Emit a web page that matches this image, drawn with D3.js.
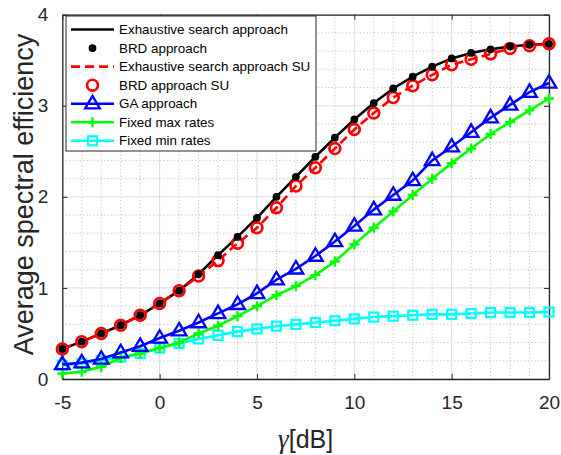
<!DOCTYPE html>
<html><head><meta charset="utf-8">
<script src="https://cdn.jsdelivr.net/npm/d3@7"></script>
<style>body{margin:0;background:#fff}svg{display:block}text{font-family:"Liberation Sans",Arial,sans-serif}</style>
</head><body><svg id="c" width="561" height="455"></svg>
<script>
const xValues = [-5,-4,-3,-2,-1,0,1,2,3,4,5,6,7,8,9,10,11,12,13,14,15,16,17,18,19,20];
const exhaustive   = [0.33,0.41,0.50,0.59,0.70,0.83,0.97,1.15,1.36,1.56,1.77,2.00,2.22,2.44,2.65,2.85,3.03,3.19,3.32,3.43,3.52,3.58,3.62,3.65,3.67,3.68];
const brd          = [0.33,0.41,0.50,0.59,0.70,0.83,0.97,1.15,1.36,1.56,1.77,2.00,2.22,2.44,2.65,2.85,3.03,3.19,3.32,3.43,3.52,3.58,3.62,3.65,3.67,3.68];
const exhaustiveSU = [0.33,0.41,0.50,0.59,0.70,0.83,0.97,1.13,1.30,1.49,1.66,1.88,2.12,2.32,2.53,2.74,2.92,3.09,3.22,3.34,3.45,3.51,3.57,3.63,3.66,3.68];
const brdSU        = [0.33,0.41,0.50,0.59,0.70,0.83,0.97,1.13,1.30,1.49,1.66,1.88,2.12,2.32,2.53,2.74,2.92,3.09,3.22,3.34,3.45,3.51,3.57,3.63,3.66,3.68];
const ga           = [0.16,0.18,0.22,0.29,0.36,0.45,0.53,0.62,0.72,0.82,0.94,1.09,1.21,1.35,1.51,1.68,1.86,2.02,2.18,2.40,2.55,2.71,2.87,3.01,3.15,3.25];
const fixedMax     = [0.06,0.08,0.135,0.23,0.28,0.34,0.40,0.50,0.585,0.69,0.80,0.92,1.02,1.14,1.29,1.48,1.66,1.84,2.02,2.20,2.37,2.53,2.69,2.82,2.95,3.08];
const fixedMin     = [0.15,0.17,0.20,0.24,0.28,0.34,0.39,0.44,0.48,0.52,0.55,0.58,0.60,0.62,0.64,0.66,0.68,0.69,0.70,0.71,0.71,0.72,0.73,0.73,0.73,0.735];
const xTicks = [-5,0,5,10,15,20];
const yTicks = [0,1,2,3,4];
const legendLabels = ["Exhaustive search approach","BRD approach","Exhaustive search approach SU","BRD approach SU","GA approach","Fixed max rates","Fixed min rates"];

const svg = d3.select("#c");
const L=62.3, R=549, T=14.7, B=379;
const x = d3.scaleLinear().domain([-5,20]).range([L,R]);
const y = d3.scaleLinear().domain([0,4]).range([B,T]);
const axisCol="#262626";

// grid minor
const g = svg.append("g");
g.selectAll(".mx").data(d3.range(-5,20.01,1).filter(v=>v%5!==0)).join("line")
 .attr("x1",d=>x(d)).attr("x2",d=>x(d)).attr("y1",T).attr("y2",B)
 .attr("stroke","#b0b0b0").attr("stroke-width",0.9).attr("stroke-dasharray","1,2.5");
g.selectAll(".my").data(d3.range(0,4.001,0.2).map(v=>+v.toFixed(1)).filter(v=>Math.abs(v-Math.round(v))>1e-6)).join("line")
 .attr("y1",d=>y(d)).attr("y2",d=>y(d)).attr("x1",L).attr("x2",R)
 .attr("stroke","#b0b0b0").attr("stroke-width",0.9).attr("stroke-dasharray","1,2.5");
g.selectAll(".gx").data(xTicks).join("line")
 .attr("x1",d=>x(d)).attr("x2",d=>x(d)).attr("y1",T).attr("y2",B)
 .attr("stroke","#dcdcdc").attr("stroke-width",1);
g.selectAll(".gy").data(yTicks).join("line")
 .attr("y1",d=>y(d)).attr("y2",d=>y(d)).attr("x1",L).attr("x2",R)
 .attr("stroke","#dcdcdc").attr("stroke-width",1);

// axes
const fmt = d => String(d);
const xa = svg.append("g").attr("transform",`translate(0,${B})`)
 .call(d3.axisBottom(x).tickValues(xTicks).tickFormat(fmt).tickSizeInner(-5).tickSizeOuter(0).tickPadding(17));
const xa2 = svg.append("g").attr("transform",`translate(0,${T})`)
 .call(d3.axisTop(x).tickValues(xTicks).tickSizeInner(-5).tickSizeOuter(0).tickFormat(""));
const ya = svg.append("g").attr("transform",`translate(${L},0)`)
 .call(d3.axisLeft(y).tickValues(yTicks).tickFormat(fmt).tickSizeInner(-5).tickSizeOuter(0).tickPadding(14));
const ya2 = svg.append("g").attr("transform",`translate(${R},0)`)
 .call(d3.axisRight(y).tickValues(yTicks).tickSizeInner(-5).tickSizeOuter(0).tickFormat(""));
[xa,xa2,ya,ya2].forEach(a=>{
  a.select(".domain").attr("stroke",axisCol).attr("stroke-width",1.3);
  a.selectAll(".tick line").attr("stroke",axisCol).attr("stroke-width",1);
  a.selectAll("text").attr("fill",axisCol).style("font-size","19px").style("font-family","'Liberation Sans',Arial,sans-serif");
});
xa.selectAll("text").attr("dy","0.71em");

const xl = svg.append("text").attr("x",(L+R)/2).attr("y",448).attr("text-anchor","middle")
 .attr("fill",axisCol).style("font-size","25px");
xl.append("tspan").style("font-family","'Liberation Serif','DejaVu Serif',serif").style("font-style","italic").style("font-size","27px").text("γ");
xl.append("tspan").text("[dB]");
svg.append("text").attr("transform",`translate(33,194.5) rotate(-90)`).attr("text-anchor","middle")
 .attr("fill",axisCol).style("font-size","27px").text("Average spectral efficiency");

const pts = arr => xValues.map((v,i)=>[v,arr[i]]);
const line = d3.line().x(d=>x(d[0])).y(d=>y(d[1]));
const plot = svg.append("g");

function drawMarker(sel, type, cx, cy){
  if(type==="dot") sel.append("circle").attr("cx",cx).attr("cy",cy).attr("r",3.9).attr("fill","#000");
  else if(type==="circle") sel.append("circle").attr("cx",cx).attr("cy",cy).attr("r",5.4).attr("fill","none").attr("stroke","#ff0000").attr("stroke-width",2.7);
  else if(type==="tri") sel.append("path").attr("d",`M${cx},${cy-7.8}L${cx+7.3},${cy+4.7}L${cx-7.3},${cy+4.7}Z`).attr("fill","none").attr("stroke","#0000ff").attr("stroke-width",2.3).attr("stroke-linejoin","miter");
  else if(type==="plus") sel.append("path").attr("d",`M${cx-5},${cy}H${cx+5}M${cx},${cy-5}V${cy+5}`).attr("stroke","#00ff00").attr("stroke-width",2.4);
  else if(type==="sq") sel.append("rect").attr("x",cx-4.5).attr("y",cy-4.5).attr("width",9).attr("height",9).attr("fill","none").attr("stroke","#00ffff").attr("stroke-width",2.2);
}

const series = [
  {data:fixedMin, color:"#00ffff", dash:null, marker:"sq", line:true},
  {data:fixedMax, color:"#00ff00", dash:null, marker:"plus", line:true},
  {data:ga, color:"#0000ff", dash:null, marker:"tri", line:true},
  {data:exhaustive, color:"#000000", dash:null, marker:null, line:true},
  {data:exhaustiveSU, color:"#ff0000", dash:"9,5", marker:null, line:true},
  {data:brdSU, color:"#ff0000", dash:null, marker:"circle", line:false},
  {data:brd, color:"#000", dash:null, marker:"dot", line:false},
];
series.forEach(s=>{
  if(s.line) plot.append("path").attr("d",line(pts(s.data))).attr("fill","none")
    .attr("stroke",s.color).attr("stroke-width",2.6).attr("stroke-dasharray",s.dash);
  if(s.marker){
    const mg = plot.append("g");
    pts(s.data).forEach(p=>drawMarker(mg,s.marker,x(p[0]),y(p[1])));
  }
});

// legend
const lg = svg.append("g");
lg.append("rect").attr("x",66).attr("y",16).attr("width",250).attr("height",135)
 .attr("fill","#fff").attr("stroke",axisCol).attr("stroke-width",1);
const legendStyle = [
  {color:"#000",dash:null,line:true,marker:null},
  {color:"#000",dash:null,line:false,marker:"dot"},
  {color:"#ff0000",dash:"9,5",line:true,marker:null},
  {color:"#ff0000",dash:null,line:false,marker:"circle"},
  {color:"#0000ff",dash:null,line:true,marker:"tri"},
  {color:"#00ff00",dash:null,line:true,marker:"plus"},
  {color:"#00ffff",dash:null,line:true,marker:"sq"},
];
legendLabels.forEach((lab,i)=>{
  const yy = 29.5 + i*18.55;
  const st = legendStyle[i];
  if(st.line) lg.append("line").attr("x1",71).attr("x2",114).attr("y1",yy).attr("y2",yy)
    .attr("stroke",st.color).attr("stroke-width",2.6).attr("stroke-dasharray",st.dash);
  if(st.marker) drawMarker(lg,st.marker,92.5,yy);
  lg.append("text").attr("x",119).attr("y",yy).attr("dy","0.35em").attr("fill","#000")
    .style("font-size","13.4px").text(lab);
});
</script></body></html>
